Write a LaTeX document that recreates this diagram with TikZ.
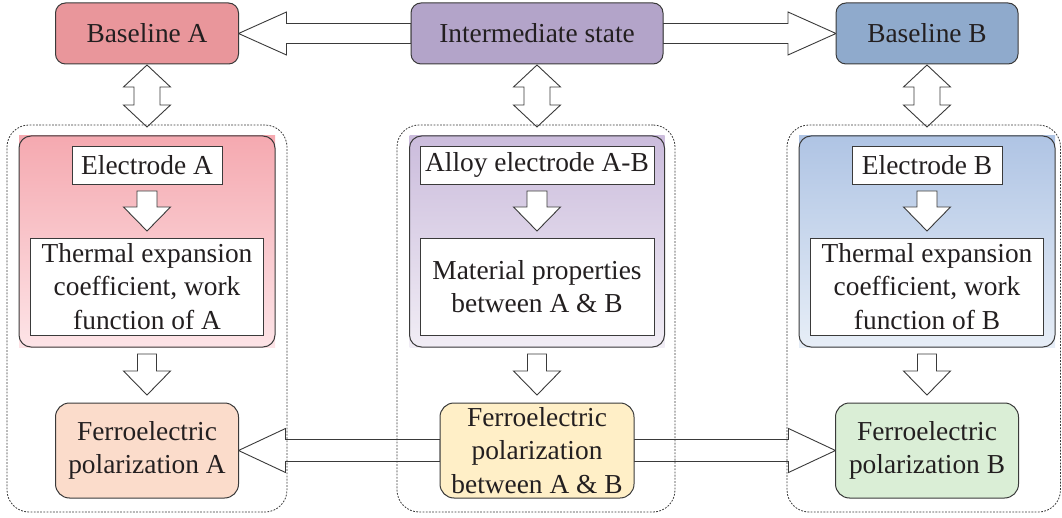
\documentclass[tikz,border=0pt]{standalone}
\usepackage{fontspec}
\setmainfont{Liberation Serif}
\usetikzlibrary{calc}

\definecolor{edge}{HTML}{3A3A3A}
\definecolor{txt}{HTML}{231F20}
\definecolor{baseA}{HTML}{E9969B}
\definecolor{interm}{HTML}{B3A4C9}
\definecolor{baseB}{HTML}{8FAACC}
\definecolor{panAtop}{HTML}{F5A9B0}
\definecolor{panAbot}{HTML}{FDE4E7}
\definecolor{panMtop}{HTML}{CBBCDC}
\definecolor{panMbot}{HTML}{F1EDF5}
\definecolor{panBtop}{HTML}{AFC4E4}
\definecolor{panBbot}{HTML}{E7EEF7}
\definecolor{ferA}{HTML}{FBDCCB}
\definecolor{ferM}{HTML}{FFEFC7}
\definecolor{ferB}{HTML}{DAEED6}

\pgfdeclarelayer{shadelayer}
\pgfdeclarelayer{arrowlayer}
\pgfsetlayers{shadelayer,arrowlayer,main}

\tikzset{
  every node/.style={font=\fontsize{27.4}{33.5}\selectfont, text=txt},
  topbox/.style={draw=edge, line width=1pt, rounded corners=10pt, inner sep=0pt, outer sep=0pt, align=center, minimum height=61pt},
  ferbox/.style={draw=edge, line width=1pt, rounded corners=14pt, inner sep=0pt, outer sep=0pt, align=center, minimum height=95pt},
  whitebox/.style={draw=edge, line width=0.9pt, fill=white, inner sep=0pt, outer sep=0pt, align=center},
  panelbox/.style={draw=edge, line width=1pt, rounded corners=12pt, inner sep=0pt, outer sep=0pt, minimum width=256pt, minimum height=211pt},
  groupbox/.style={draw=edge, line width=0.8pt, dash pattern=on 1.8pt off 1.4pt, rounded corners=22pt, inner sep=0pt, outer sep=0pt, minimum height=387pt},
  blockarrow/.style={draw=edge, fill=white, line width=0.9pt, line join=miter},
}

% single block arrow: tail, tip, shaft half-width, head half-width, head length
\newcommand\singlearrow[5]{%
  \coordinate (ah) at ($(#2)!#5!(#1)$);
  \draw[blockarrow] ($(#1)!#3!90:(#2)$) -- ($(ah)!#3!90:(#2)$) -- ($(ah)!#4!90:(#2)$) -- (#2)
    -- ($(ah)!#4!-90:(#2)$) -- ($(ah)!#3!-90:(#2)$) -- ($(#1)!#3!-90:(#2)$) -- cycle;}

% double-headed block arrow: tip one, tip two, shaft half-width, head half-width, head length
\newcommand\doublearrow[5]{%
  \coordinate (ah1) at ($(#1)!#5!(#2)$);
  \coordinate (ah2) at ($(#2)!#5!(#1)$);
  \draw[blockarrow] (#1) -- ($(ah1)!#4!90:(#2)$) -- ($(ah1)!#3!90:(#2)$) -- ($(ah2)!#3!90:(#2)$)
    -- ($(ah2)!#4!90:(#2)$) -- (#2) -- ($(ah2)!#4!-90:(#2)$) -- ($(ah2)!#3!-90:(#2)$)
    -- ($(ah1)!#3!-90:(#2)$) -- ($(ah1)!#4!-90:(#2)$) -- cycle;}

\begin{document}
\begin{tikzpicture}[x=1pt,y=-1pt]
\useasboundingbox (0,0) rectangle (1062,518);

% dotted groups
\node[groupbox, minimum width=280pt] (ga) at (147,318.5) {};
\node[groupbox, minimum width=278pt] (gm) at (536,318.5) {};
\node[groupbox, minimum width=273.5pt] (gb) at (923.75,318.5) {};

% top row
\node[topbox, fill=baseA, minimum width=183pt] (ba) at (147,33.5) {Baseline A};
\node[topbox, fill=interm, minimum width=252pt] (im) at (537,33.5) {Intermediate state};
\node[topbox, fill=baseB, minimum width=182pt] (bb) at (927,33.5) {Baseline B};

% gradient panels
\node[panelbox] (pa) at (147,241.5) {};
\node[panelbox, minimum width=255pt] (pm) at (537,241.5) {};
\node[panelbox] (pb) at (927,241.5) {};
\begin{pgfonlayer}{shadelayer}
  \shade[top color=panAtop, bottom color=panAbot] (pa.north west) rectangle (pa.south east);
  \shade[top color=panMtop, bottom color=panMbot] (pm.north west) rectangle (pm.south east);
  \shade[top color=panBtop, bottom color=panBbot] (pb.north west) rectangle (pb.south east);
\end{pgfonlayer}

% white boxes inside the panels
\node[whitebox, minimum width=150pt, minimum height=38pt] (ea) at (147,165) {Electrode A};
\node[whitebox, minimum width=233pt, minimum height=97pt] (ta) at (147,286.5)
  {Thermal expansion\\coefficient, work\\function of A};
\node[whitebox, minimum width=234pt, minimum height=38pt] (em) at (537,165) {Alloy electrode A-B};
\node[whitebox, minimum width=234pt, minimum height=97pt] (tm) at (537,286.5)
  {Material properties\\between A \& B};
\node[whitebox, minimum width=150pt, minimum height=38pt] (eb) at (927,165) {Electrode B};
\node[whitebox, minimum width=233pt, minimum height=97pt] (tb) at (927,286.5)
  {Thermal expansion\\coefficient, work\\function of B};

% bottom row
\node[ferbox, fill=ferA, minimum width=183pt] (fa) at (147,450.5) {Ferroelectric\\polarization A};
\node[ferbox, fill=ferM, minimum width=194pt] (fm) at (537,450.5) {Ferroelectric\\polarization\\between A \& B};
\node[ferbox, fill=ferB, minimum width=183pt] (fb) at (927,450.5) {Ferroelectric\\polarization B};

% arrow end points
\coordinate (ta1) at ($(ba.south)+(0,1)$);
\coordinate (ta2) at ($(ba.south |- ga.north)+(0,2)$);
\coordinate (tm1) at ($(im.south)+(0,1)$);
\coordinate (tm2) at ($(im.south |- gm.north)+(0,2)$);
\coordinate (tb1) at ($(bb.south)+(0,1)$);
\coordinate (tb2) at ($(bb.south |- gb.north)+(0,2)$);
\foreach \c in {a,m,b}{
  \coordinate (s1\c) at ($(e\c.south)+(0,7)$);
  \coordinate (s2\c) at ($(t\c.north)+(0,-7)$);
  \coordinate (p1\c) at ($(p\c.south)+(0,7)$);
  \coordinate (p2\c) at ($(f\c.north)+(0,-8)$);
}

\begin{pgfonlayer}{arrowlayer}
  % top row
  \singlearrow{im.west}{ba.east}{10pt}{21.5pt}{48pt}
  \singlearrow{im.east}{bb.west}{10pt}{21.5pt}{48pt}
  \doublearrow{ta1}{ta2}{13pt}{23.5pt}{22pt}
  \doublearrow{tm1}{tm2}{13pt}{23.5pt}{22pt}
  \doublearrow{tb1}{tb2}{13pt}{23.5pt}{22pt}
  % inside the panels and below them
  \foreach \c in {a,m,b}{
    \singlearrow{s1\c}{s2\c}{10pt}{23.5pt}{24pt}
    \singlearrow{p1\c}{p2\c}{9.5pt}{23.5pt}{24pt}
  }
  % bottom row
  \singlearrow{fm.west}{fa.east}{11pt}{22pt}{47pt}
  \singlearrow{fm.east}{fb.west}{11pt}{22pt}{47pt}
\end{pgfonlayer}
\end{tikzpicture}
\end{document}
